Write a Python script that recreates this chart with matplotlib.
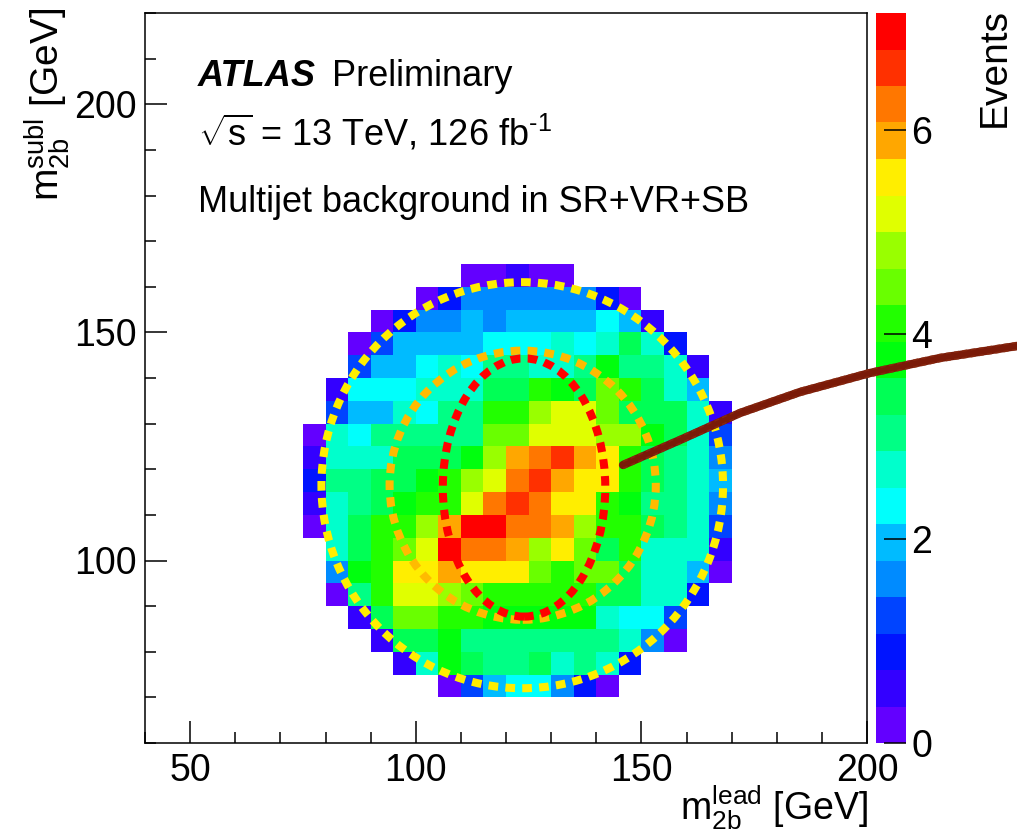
import matplotlib.pyplot as plt
import numpy as np
from matplotlib.colors import ListedColormap, BoundaryNorm, hsv_to_rgb
from matplotlib.patches import Ellipse
from matplotlib.lines import Line2D

plt.rcParams['font.family'] = ['Liberation Sans', 'DejaVu Sans']
plt.rcParams['mathtext.fontset'] = 'custom'
plt.rcParams['mathtext.rm'] = 'Liberation Sans'
plt.rcParams['mathtext.it'] = 'Liberation Sans:italic'
plt.rcParams['mathtext.bf'] = 'Liberation Sans:bold'

# 5 GeV bins in leading / subleading m_2b
m_lead_edges = np.arange(75, 175, 5)
m_subl_edges = np.arange(70, 170, 5)

# multijet events per bin, first row is m_subl 160-165, last row is 70-75
events = [
    [0, 0, 0, 0, 0, 0, 0, .2, .2, .5, .2, .2, 0, 0, 0, 0, 0, 0, 0],
    [0, 0, 0, 0, 0, .2, .9, 1.6, 1.6, 1.6, 1.6, 1.6, 1.6, .9, .2, 0, 0, 0, 0],
    [0, 0, 0, .2, .9, 1.6, 1.6, 2.0, 1.6, 2.0, 2.0, 2.0, 2.0, 2.3, 2.0, .5, 0, 0, 0],
    [0, 0, .2, 1.2, 2.0, 2.0, 2.0, 2.0, 2.3, 2.3, 2.3, 2.7, 2.3, 2.7, 3.4, 2.7, .9, 0, 0],
    [0, 0, 1.2, 2.0, 2.0, 2.3, 2.7, 2.3, 3.0, 3.0, 2.7, 2.7, 3.0, 3.7, 3.0, 3.0, 2.7, .5, 0],
    [0, .5, 2.3, 2.3, 2.3, 2.7, 2.7, 2.7, 3.4, 3.4, 4.1, 3.7, 3.4, 4.5, 4.1, 3.4, 2.7, 2.0, 0],
    [0, 1.2, 2.0, 2.0, 2.7, 2.3, 3.0, 3.0, 4.1, 4.1, 4.8, 5.2, 5.2, 4.5, 3.4, 3.4, 3.4, 2.7, .5],
    [.2, 2.7, 2.3, 3.0, 3.0, 3.0, 3.0, 3.0, 4.5, 4.5, 5.2, 5.2, 5.2, 4.8, 4.8, 3.7, 3.4, 2.7, 1.2],
    [.5, 2.7, 2.7, 2.7, 3.4, 3.4, 3.4, 3.7, 4.8, 5.9, 6.2, 6.6, 5.9, 5.5, 4.1, 3.4, 3.0, 2.7, 1.6],
    [.9, 3.0, 3.0, 3.4, 3.4, 3.7, 4.1, 4.8, 5.2, 6.2, 6.6, 5.9, 5.5, 5.5, 4.1, 3.4, 3.0, 2.7, 2.0],
    [.5, 2.7, 3.0, 3.4, 3.7, 4.1, 4.1, 5.2, 6.2, 6.6, 6.2, 5.5, 5.5, 4.1, 3.7, 3.0, 3.0, 2.7, 1.6],
    [.2, 2.7, 3.4, 4.1, 4.1, 4.8, 5.9, 7.14, 7.0, 6.2, 6.2, 5.9, 4.8, 4.1, 4.1, 3.4, 3.0, 2.7, 1.2],
    [0, 2.7, 3.4, 4.1, 4.5, 5.2, 7.0, 6.2, 6.2, 5.9, 4.8, 5.5, 4.5, 3.4, 4.1, 2.7, 2.7, 2.7, .5],
    [0, 1.6, 3.7, 4.1, 5.5, 5.5, 5.9, 5.5, 5.5, 5.5, 4.5, 4.1, 4.5, 4.5, 3.4, 2.7, 2.7, 2.0, .2],
    [0, .2, 3.0, 4.1, 5.2, 5.2, 4.8, 4.5, 4.1, 4.1, 4.1, 4.1, 4.1, 3.4, 3.4, 2.7, 2.7, .9, 0],
    [0, 0, .5, 3.4, 4.5, 4.5, 4.1, 4.1, 3.7, 3.7, 3.7, 3.7, 3.7, 2.7, 2.3, 2.3, 1.2, 0, 0],
    [0, 0, 0, .5, 3.4, 3.4, 3.7, 3.0, 3.0, 3.0, 3.0, 3.0, 3.0, 3.0, 2.7, 1.6, .2, 0, 0],
    [0, 0, 0, 0, .5, 2.7, 3.7, 3.4, 3.0, 3.0, 3.4, 2.7, 3.0, 2.7, .9, 0, 0, 0, 0],
    [0, 0, 0, 0, 0, 0, .2, 1.2, 2.0, 2.3, 2.3, 1.6, .9, .2, 0, 0, 0, 0, 0],
]
events = np.flipud(np.array(events))
z_max = 7.14

# region boundaries: centre (m_lead, m_subl), full width, full height [GeV]
sr_region = (124.0, 116.0, 36.0, 56.6)
vr_region = (123.7, 116.5, 59.0, 59.0)
sb_region = (123.6, 116.5, 89.0, 89.0)

# ROOT "pretty" palette, 20 contour levels
n_levels = 20
hues = [280 - (int((k + 0.99) * 50 / n_levels) + 1) * 5.6 for k in range(n_levels)]
cmap = ListedColormap([hsv_to_rgb((h / 360.0, 1, 1)) for h in hues])
norm = BoundaryNorm(np.linspace(0, z_max, n_levels + 1), n_levels)

W, H = 1017, 834
fig = plt.figure(figsize=(W / 100, H / 100), dpi=100)
ax = fig.add_axes([145 / W, 1 - 743 / H, 722 / W, 730 / H])
cax = fig.add_axes([876 / W, 1 - 743 / H, 30 / W, 730 / H])

mesh = ax.pcolormesh(m_lead_edges, m_subl_edges, np.ma.masked_equal(events, 0),
                     cmap=cmap, norm=norm)

dash = (0, (1.2, 0.9))
for reg, col in [(sb_region, '#ffee00'), (vr_region, '#ffbb00'), (sr_region, '#ff0000')]:
    e = Ellipse((reg[0], reg[1]), reg[2], reg[3], fill=False, edgecolor=col,
                lw=5.8, linestyle=dash)
    e.set_capstyle('butt')
    ax.add_patch(e)

ax.set_xlim(40, 200)
ax.set_ylim(60, 220)
ax.set_xticks([50, 100, 150, 200])
ax.set_yticks([100, 150, 200])
ax.set_xticks(np.arange(40, 201, 10), minor=True)
ax.set_yticks(np.arange(60, 221, 10), minor=True)
ax.tick_params(which='both', direction='in', top=False, right=False, width=1.1,
               labelsize=27)
ax.tick_params(which='major', length=16)
ax.tick_params(which='minor', length=8)
ax.tick_params(axis='x', pad=7)
ax.tick_params(axis='y', pad=6)
for s in ax.spines.values():
    s.set_linewidth(1.1)

cb = fig.colorbar(mesh, cax=cax, ticks=[0, 2, 4, 6])
cb.outline.set_visible(False)
cax.tick_params(direction='in', length=16, width=1.1, labelsize=27, pad=4)
cax.minorticks_off()
cb.set_ticklabels(['0', '2', '4', '6'])

fig.text(198 / W, 1 - 86 / H, 'ATLAS', fontsize=26, fontweight='bold',
         fontstyle='italic')
fig.text(332 / W, 1 - 86 / H, 'Preliminary', fontsize=26)
fig.text(198 / W, 1 - 146 / H, r'$\sqrt{\mathrm{s}}$ = 13 TeV, 126 fb$^{\text{-1}}$',
         fontsize=26)
fig.text(198 / W, 1 - 212 / H, 'Multijet background in SR+VR+SB', fontsize=26)

fig.text(868 / W, 1 - 820 / H,
         r'$\mathrm{m}_{\mathrm{2b}}^{\mathrm{lead}}$ [GeV]', fontsize=27,
         ha='right', va='baseline')
fig.text(47 / W, 1 - 8 / H,
         r'$\mathrm{m}_{\mathrm{2b}}^{\mathrm{subl}}$ [GeV]', fontsize=28,
         rotation=90, ha='center', va='top')
fig.text(995 / W, 1 - 8 / H, 'Events', fontsize=28, rotation=90,
         ha='center', va='top')

# hand-drawn arrow stroke across the figure (pixel positions)
stroke_x = [623, 680, 740, 800, 870, 940, 1017]
stroke_y = [465, 440, 413, 392, 373, 358, 346]
fx = np.array([x / W for x in stroke_x])
fy = np.array([1 - y / H for y in stroke_y])
fig.add_artist(Line2D(fx, fy, transform=fig.transFigure, color='#7a1a08', lw=6,
                      solid_capstyle='round'))
for off in (-3.5, 3.5):
    fig.add_artist(Line2D(fx, fy + off / H, transform=fig.transFigure,
                          color='#8a2a10', lw=1.2, linestyle=(0, (3, 2)), alpha=0.8))

fig.savefig('out.png', dpi=100)
